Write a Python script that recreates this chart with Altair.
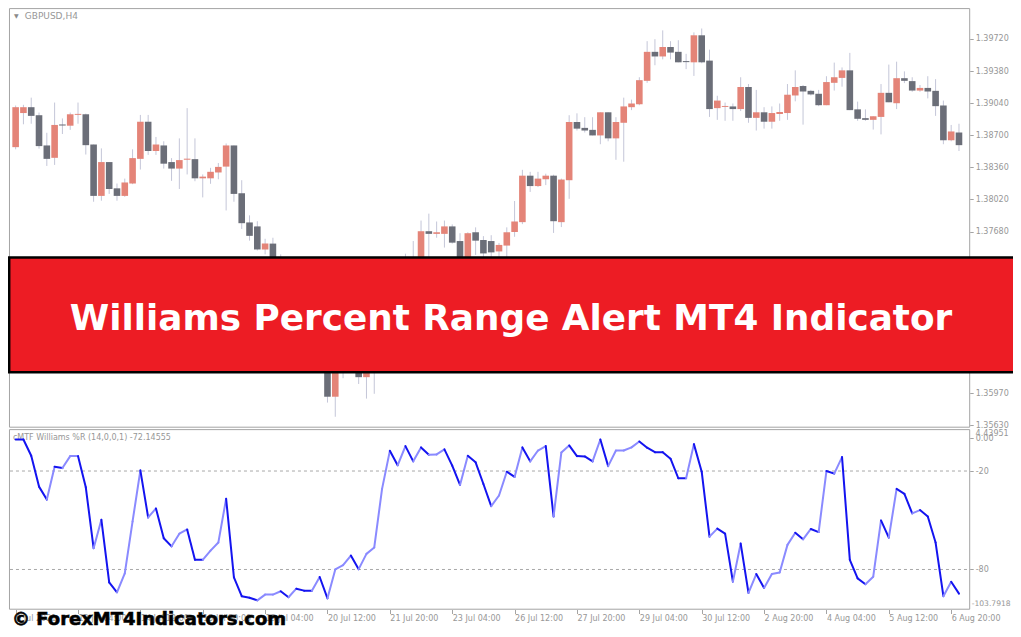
import altair as alt
import pandas as pd

# ---------------- data ----------------
OPEN = [1.38574, 1.38935, 1.38997, 1.38912, 1.38592, 1.38461, 1.38814, 1.38801, 1.38916, 1.38922,
        1.38602, 1.38058, 1.38416, 1.38138, 1.38058, 1.38189, 1.38450, 1.38843, 1.38533, 1.38592,
        1.38416, 1.38347, 1.38441, 1.38447, 1.38244, 1.38244, 1.38306, 1.38368, 1.38592, 1.38086,
        1.37777, 1.37735, 1.37491, 1.37553, 1.37343, 1.37116, 1.36827, 1.36951, 1.36786, 1.36590,
        1.36724, 1.35932, 1.36311, 1.36414, 1.36487, 1.36139, 1.36538, 1.36641, 1.37106, 1.37343,
        1.37240, 1.37384, 1.37302, 1.37684, 1.37656, 1.37656, 1.37735, 1.37580, 1.37343, 1.37673,
        1.37591, 1.37580, 1.37470, 1.37532, 1.37676, 1.37780, 1.38272, 1.38162, 1.38234, 1.38272,
        1.37780, 1.38224, 1.38840, 1.38778, 1.38757, 1.38698, 1.38943, 1.38667, 1.38832, 1.38997,
        1.39028, 1.39276, 1.39583, 1.39534, 1.39634, 1.39583, 1.39485, 1.39472, 1.39758, 1.39490,
        1.38987, 1.39000, 1.39005, 1.38977, 1.39211, 1.38884, 1.38943, 1.38843, 1.38925, 1.38935,
        1.39121, 1.39221, 1.39170, 1.39139, 1.39018, 1.39255, 1.39307, 1.39387, 1.38974, 1.38881,
        1.38863, 1.38894, 1.39149, 1.39039, 1.39304, 1.39273, 1.39173, 1.39201, 1.39170, 1.39015,
        1.38647, 1.38729]
HIGH = [1.39015, 1.39022, 1.39098, 1.38940, 1.38726, 1.39046, 1.38878, 1.38940, 1.39046, 1.38929,
        1.38602, 1.38561, 1.38416, 1.38189, 1.38241, 1.38551, 1.38915, 1.38915, 1.38682, 1.38636,
        1.38458, 1.38667, 1.38987, 1.38667, 1.38285, 1.38355, 1.38406, 1.38613, 1.38592, 1.38224,
        1.37852, 1.37790, 1.37604, 1.37615, 1.37439, 1.37178, 1.36992, 1.37034, 1.36899, 1.36796,
        1.36765, 1.36383, 1.36487, 1.36559, 1.36538, 1.36590, 1.36724, 1.37157, 1.37384, 1.37395,
        1.37446, 1.37580, 1.37797, 1.37870, 1.37787, 1.37797, 1.37756, 1.37663, 1.37673, 1.37725,
        1.37632, 1.37642, 1.37560, 1.37725, 1.38004, 1.38334, 1.38313, 1.38313, 1.38293, 1.38282,
        1.38241, 1.38912, 1.38932, 1.38891, 1.38891, 1.38943, 1.38943, 1.38891, 1.39098, 1.39077,
        1.39314, 1.39696, 1.39717, 1.39810, 1.39696, 1.39706, 1.39562, 1.39789, 1.39830, 1.39606,
        1.39118, 1.39046, 1.39036, 1.39314, 1.39242, 1.39180, 1.38997, 1.39005, 1.39036, 1.39242,
        1.39387, 1.39232, 1.39180, 1.39180, 1.39325, 1.39469, 1.39418, 1.39572, 1.39056, 1.38974,
        1.38901, 1.39242, 1.39448, 1.39479, 1.39376, 1.39314, 1.39232, 1.39325, 1.39294, 1.39067,
        1.38809, 1.38822]
LOW = [1.38551, 1.38816, 1.38822, 1.38558, 1.38375, 1.38386, 1.38713, 1.38757, 1.38822, 1.38496,
       1.37996, 1.38007, 1.38079, 1.38007, 1.38048, 1.38182, 1.38337, 1.38492, 1.38492, 1.38347,
       1.38217, 1.38131, 1.38285, 1.38213, 1.38042, 1.38186, 1.38234, 1.37904, 1.37996, 1.37708,
       1.37584, 1.37480, 1.37439, 1.37261, 1.37054, 1.36765, 1.36745, 1.36724, 1.36559, 1.36538,
       1.35870, 1.35720, 1.36128, 1.36208, 1.36067, 1.35912, 1.35963, 1.36590, 1.37054, 1.37178,
       1.37199, 1.37261, 1.37261, 1.37384, 1.37615, 1.37511, 1.37553, 1.37281, 1.37302, 1.37433,
       1.37343, 1.37343, 1.37384, 1.37384, 1.37625, 1.37759, 1.38100, 1.38151, 1.38172, 1.37666,
       1.37728, 1.38027, 1.38750, 1.38729, 1.38698, 1.38605, 1.38636, 1.38440, 1.38420, 1.38966,
       1.39018, 1.39255, 1.39441, 1.39503, 1.39503, 1.39472, 1.39400, 1.39328, 1.39462, 1.38894,
       1.38863, 1.38853, 1.38853, 1.38956, 1.38832, 1.38750, 1.38770, 1.38770, 1.38853, 1.38863,
       1.39059, 1.38812, 1.39121, 1.39008, 1.39018, 1.39173, 1.39214, 1.38966, 1.38853, 1.38853,
       1.38760, 1.38709, 1.39049, 1.38977, 1.39252, 1.39160, 1.39160, 1.39090, 1.38905, 1.38605,
       1.38636, 1.38533]
CLOSE = [1.38997, 1.38997, 1.38905, 1.38585, 1.38450, 1.38809, 1.38803, 1.38922, 1.38926, 1.38595,
         1.38058, 1.38416, 1.38131, 1.38058, 1.38200, 1.38458, 1.38843, 1.38533, 1.38602, 1.38399,
         1.38347, 1.38437, 1.38452, 1.38244, 1.38262, 1.38313, 1.38365, 1.38592, 1.38079, 1.37769,
         1.37635, 1.37491, 1.37553, 1.37343, 1.37116, 1.36827, 1.36951, 1.36786, 1.36590, 1.36724,
         1.35932, 1.36311, 1.36414, 1.36487, 1.36139, 1.36538, 1.36641, 1.37106, 1.37343, 1.37240,
         1.37384, 1.37302, 1.37684, 1.37656, 1.37673, 1.37735, 1.37563, 1.37343, 1.37663, 1.37584,
         1.37449, 1.37460, 1.37539, 1.37673, 1.37787, 1.38272, 1.38162, 1.38241, 1.38272, 1.37790,
         1.38231, 1.38840, 1.38770, 1.38750, 1.38698, 1.38943, 1.38667, 1.38840, 1.39005, 1.39036,
         1.39283, 1.39583, 1.39534, 1.39634, 1.39575, 1.39472, 1.39474, 1.39758, 1.39472, 1.38977,
         1.39067, 1.39010, 1.38977, 1.39211, 1.38884, 1.38943, 1.38843, 1.38935, 1.38946, 1.39129,
         1.39211, 1.39163, 1.39132, 1.39018, 1.39263, 1.39314, 1.39387, 1.38966, 1.38874, 1.38863,
         1.38901, 1.39149, 1.39049, 1.39304, 1.39276, 1.39173, 1.39201, 1.39163, 1.39008, 1.38647,
         1.38740, 1.38595]
WPR = [-0.8, -0.8, -10.7, -29.5, -37.4, -17.4, -18.2, -10.9, -10.9, -29.9,
       -67.0, -49.7, -87.9, -93.9, -82.4, -50.7, -19.6, -48.3, -42.8, -61.0,
       -65.9, -58.2, -55.6, -74.1, -74.1, -68.5, -63.6, -36.9, -84.8, -96.3,
       -97.2, -98.8, -95.3, -95.3, -93.3, -96.9, -91.7, -92.9, -92.9, -84.6,
       -97.6, -80.0, -77.4, -71.5, -79.8, -70.5, -66.6, -30.9, -7.7, -16.5,
       -4.8, -14.1, -5.6, -10.1, -9.9, -6.8, -16.7, -28.5, -10.7, -14.7,
       -27.9, -41.4, -34.9, -20.4, -23.6, -5.6, -14.1, -7.5, -4.8, -47.7,
       -8.7, -4.4, -10.9, -11.1, -14.1, -0.8, -17.0, -7.5, -7.5, -5.6,
       -2.0, -5.8, -8.5, -8.5, -12.5, -24.4, -24.4, -3.6, -20.4, -60.0,
       -55.1, -58.2, -87.4, -64.2, -94.3, -82.8, -91.3, -82.8, -81.8, -65.0,
       -57.6, -61.6, -55.3, -57.2, -20.0, -21.6, -11.5, -74.1, -85.4, -89.0,
       -84.4, -50.1, -60.6, -30.9, -33.9, -45.8, -43.8, -47.7, -63.6, -96.3,
       -87.5, -94.7]

PRICE_TICKS = [1.39720, 1.39380, 1.39040, 1.38700, 1.38360, 1.38020, 1.37680, 1.35970, 1.35630]
IND_TICKS = [0, -20, -80]
IND_TICK_LABELS = ["0.00", "-20", "-80"]
IND_LEVELS = [-20, -80]
IND_MAX = 4.43951
IND_MIN = -103.7918
TIME_TICK_INDEX = [0, 8, 16, 24, 32, 40, 48, 56, 64, 72, 80, 88, 96, 104, 112, 120]
TIME_TICK_LABELS = ["9 Jul 2021", "13 Jul 04:00", "14 Jul 12:00", "15 Jul 20:00", "19 Jul 04:00",
                    "20 Jul 12:00", "21 Jul 20:00", "23 Jul 04:00", "26 Jul 12:00", "27 Jul 20:00",
                    "29 Jul 04:00", "30 Jul 12:00", "2 Aug 20:00", "4 Aug 04:00", "5 Aug 12:00",
                    "6 Aug 20:00"]
SYMBOL = "GBPUSD,H4"
IND_NAME = "cMTF Williams %R (14,0,0,1) -72.14555"
TITLE = "Williams Percent Range Alert MT4 Indicator"
WATERMARK = "\u00a9 ForexMT4Indicators.com"

# ---------------- layout helpers ----------------
W, H = 1005, 621
SX, SY = W / 1021, H / 637


def px(v):
    return round(v * SX, 2)


def py(v):
    return round(v * SY, 2)


GRAY_TXT = "#979797"
FRAME = "#A4A4A4"
FONT = "DejaVu Sans"

# ---------------- derived tables ----------------
n = len(OPEN)
candles = pd.DataFrame({"i": list(range(n)), "open": OPEN, "high": HIGH, "low": LOW, "close": CLOSE})
candles["kind"] = ["bull" if c >= o else "bear" for o, c in zip(OPEN, CLOSE)]

rows = []
state = "fall"
for k in range(1, n):
    if WPR[k] < WPR[k - 1]:
        state = "fall"
    elif WPR[k] > WPR[k - 1]:
        state = "rise"
    rows.append({"i0": k - 1, "i1": k, "v0": WPR[k - 1], "v1": WPR[k], "kind": state})
segs = pd.DataFrame(rows)

# ---------------- scales / axes ----------------
x_scale = alt.Scale(domain=[-0.3375, 127.2875], nice=False, zero=False)
time_arr = "[" + ",".join("'" + s + "'" for s in TIME_TICK_LABELS) + "]"
time_idx = "[" + ",".join(str(v) for v in TIME_TICK_INDEX) + "]"
x_axis = alt.Axis(orient="bottom", offset=-(H - py(617)), values=TIME_TICK_INDEX,
                  labelExpr=f"{time_arr}[indexof({time_idx}, datum.value)]",
                  domain=False, grid=False, tickSize=4, tickColor=FRAME,
                  labelAlign="left", labelBaseline="top", labelPadding=1,
                  labelFont=FONT, labelFontSize=8, labelColor=GRAY_TXT,
                  labelOverlap=False, labelFlush=False, labelBound=False, title=None)

price_scale = alt.Scale(domain=[1.3347316, 1.40047], nice=False, zero=False)
price_axis = alt.Axis(orient="right", offset=-(W - px(977)), values=PRICE_TICKS, format=".5f",
                      domain=False, grid=False, tickSize=3.5, tickColor=FRAME, labelPadding=2,
                      labelFont=FONT, labelFontSize=8, labelColor=GRAY_TXT, labelAlign="left",
                      labelBaseline="middle", labelOverlap=False, labelFlush=False,
                      labelBound=False, title=None)

ind_scale = alt.Scale(domain=[-116.28, 262.21], nice=False, zero=False)
ind_arr = "[" + ",".join("'" + s + "'" for s in IND_TICK_LABELS) + "]"
ind_idx = "[" + ",".join(str(v) for v in IND_TICKS) + "]"
ind_axis = alt.Axis(orient="right", offset=-(W - px(977)), values=IND_TICKS,
                    labelExpr=f"{ind_arr}[indexof({ind_idx}, datum.value)]",
                    domain=False, grid=False, tickSize=3.5, tickColor=FRAME, labelPadding=2,
                    labelFont=FONT, labelFontSize=8, labelColor=GRAY_TXT, labelAlign="left",
                    labelBaseline="middle", labelOverlap=False, labelFlush=False,
                    labelBound=False, title=None)

color_scale = alt.Scale(domain=["bull", "bear", "rise", "fall"],
                        range=["#E48478", "#6B6E78", "#8A8AFF", "#1414F0"])

# ---------------- price panel ----------------
wicks = alt.Chart(candles).mark_rule(color="#C4C6D8", strokeWidth=1).encode(
    x=alt.X("i:Q", scale=x_scale, axis=x_axis),
    y=alt.Y("low:Q", scale=price_scale, axis=price_axis),
    y2="high:Q",
)
bodies = alt.Chart(candles).mark_bar(size=6.6).encode(
    x=alt.X("i:Q", scale=x_scale, axis=x_axis),
    y=alt.Y("open:Q", scale=price_scale, axis=price_axis),
    y2="close:Q",
    color=alt.Color("kind:N", scale=color_scale, legend=None),
)
price_layer = alt.layer(wicks, bodies)

# ---------------- indicator panel ----------------
levels = alt.Chart(pd.DataFrame({"level": IND_LEVELS})).mark_rule(
    color="#A8A8A8", strokeWidth=1, strokeDash=[3, 3]).encode(
    x=alt.value(px(2)), x2=alt.value(px(977)),
    y=alt.Y("level:Q", scale=ind_scale, axis=ind_axis),
)
name_txt = alt.Chart(pd.DataFrame({"t": [IND_NAME]})).mark_text(
    font=FONT, fontSize=8, color=GRAY_TXT, align="left", baseline="middle").encode(
    text="t:N", x=alt.value(px(5)), y=alt.value(py(441)))
lines = alt.Chart(segs).mark_rule(strokeWidth=2, strokeCap="round").encode(
    x=alt.X("i0:Q", scale=x_scale, axis=x_axis),
    x2="i1:Q",
    y=alt.Y("v0:Q", scale=ind_scale, axis=ind_axis),
    y2="v1:Q",
    color=alt.Color("kind:N", scale=color_scale, legend=None),
)
max_lbl = alt.Chart(pd.DataFrame({"v": [IND_MAX], "t": [f"{IND_MAX:.5f}"]})).mark_text(
    font=FONT, fontSize=8, color=GRAY_TXT, align="left", baseline="middle", dy=3).encode(
    text="t:N", x=alt.value(px(983)), y=alt.Y("v:Q", scale=ind_scale, axis=ind_axis))
min_lbl = alt.Chart(pd.DataFrame({"v": [IND_MIN], "t": [f"{IND_MIN:.4f}"]})).mark_text(
    font=FONT, fontSize=7.6, color=GRAY_TXT, align="left", baseline="middle", dy=-5).encode(
    text="t:N", x=alt.value(px(979)), y=alt.Y("v:Q", scale=ind_scale, axis=ind_axis))
ind_layer = alt.layer(levels, name_txt, lines, max_lbl, min_lbl)

# ---------------- frames & decorations ----------------
one = pd.DataFrame({"t": [SYMBOL]})
frame_price = alt.Chart(one).mark_rect(fillOpacity=0, stroke=FRAME, strokeWidth=1).encode(
    x=alt.value(px(1.5)), x2=alt.value(px(977)), y=alt.value(py(0.6)), y2=alt.value(py(430)))
frame_ind = alt.Chart(one).mark_rect(fillOpacity=0, stroke=FRAME, strokeWidth=1).encode(
    x=alt.value(px(1.5)), x2=alt.value(px(977)), y=alt.value(py(432.5)), y2=alt.value(py(616.7)))
tri = alt.Chart(pd.DataFrame({"t": ["\u25bc"]})).mark_text(
    font=FONT, fontSize=6, color="#8A8A8A", align="center", baseline="middle").encode(
    text="t:N", x=alt.value(px(8.5)), y=alt.value(py(8)))
sym = alt.Chart(one).mark_text(
    font=FONT, fontSize=9, color=GRAY_TXT, align="left", baseline="middle").encode(
    text="t:N", x=alt.value(px(17)), y=alt.value(py(8.5)))
banner = alt.Chart(pd.DataFrame({"t": [TITLE]})).mark_rect(
    fill="#ED1C24", stroke="#000000", strokeWidth=2.5).encode(
    x=alt.value(px(1.2)), x2=alt.value(px(1024)), y=alt.value(py(256)), y2=alt.value(py(373.7)))
banner_txt = alt.Chart(pd.DataFrame({"t": [TITLE]})).mark_text(
    font=FONT, fontWeight="bold", fontSize=35.8, color="#FFFFFF", align="center",
    baseline="alphabetic").encode(text="t:N", x=alt.value(px(511)), y=alt.value(py(330)))
wm = alt.Chart(pd.DataFrame({"t": [WATERMARK]})).mark_text(
    font=FONT, fontWeight="bold", fontSize=18, color="#000000", stroke="#000000",
    strokeWidth=0.6, align="left", baseline="alphabetic").encode(
    text="t:N", x=alt.value(px(4)), y=alt.value(py(632.5)))

chart = alt.layer(
    frame_price, frame_ind, tri, sym, price_layer, ind_layer, banner, banner_txt, wm
).resolve_scale(y="independent").properties(
    width=W, height=H, autosize=alt.AutoSizeParams(type="none"), padding=0,
    background="#FFFFFF",
).configure_view(stroke=None)

chart.save("out.html", embed_options={"renderer": "svg", "actions": False})
